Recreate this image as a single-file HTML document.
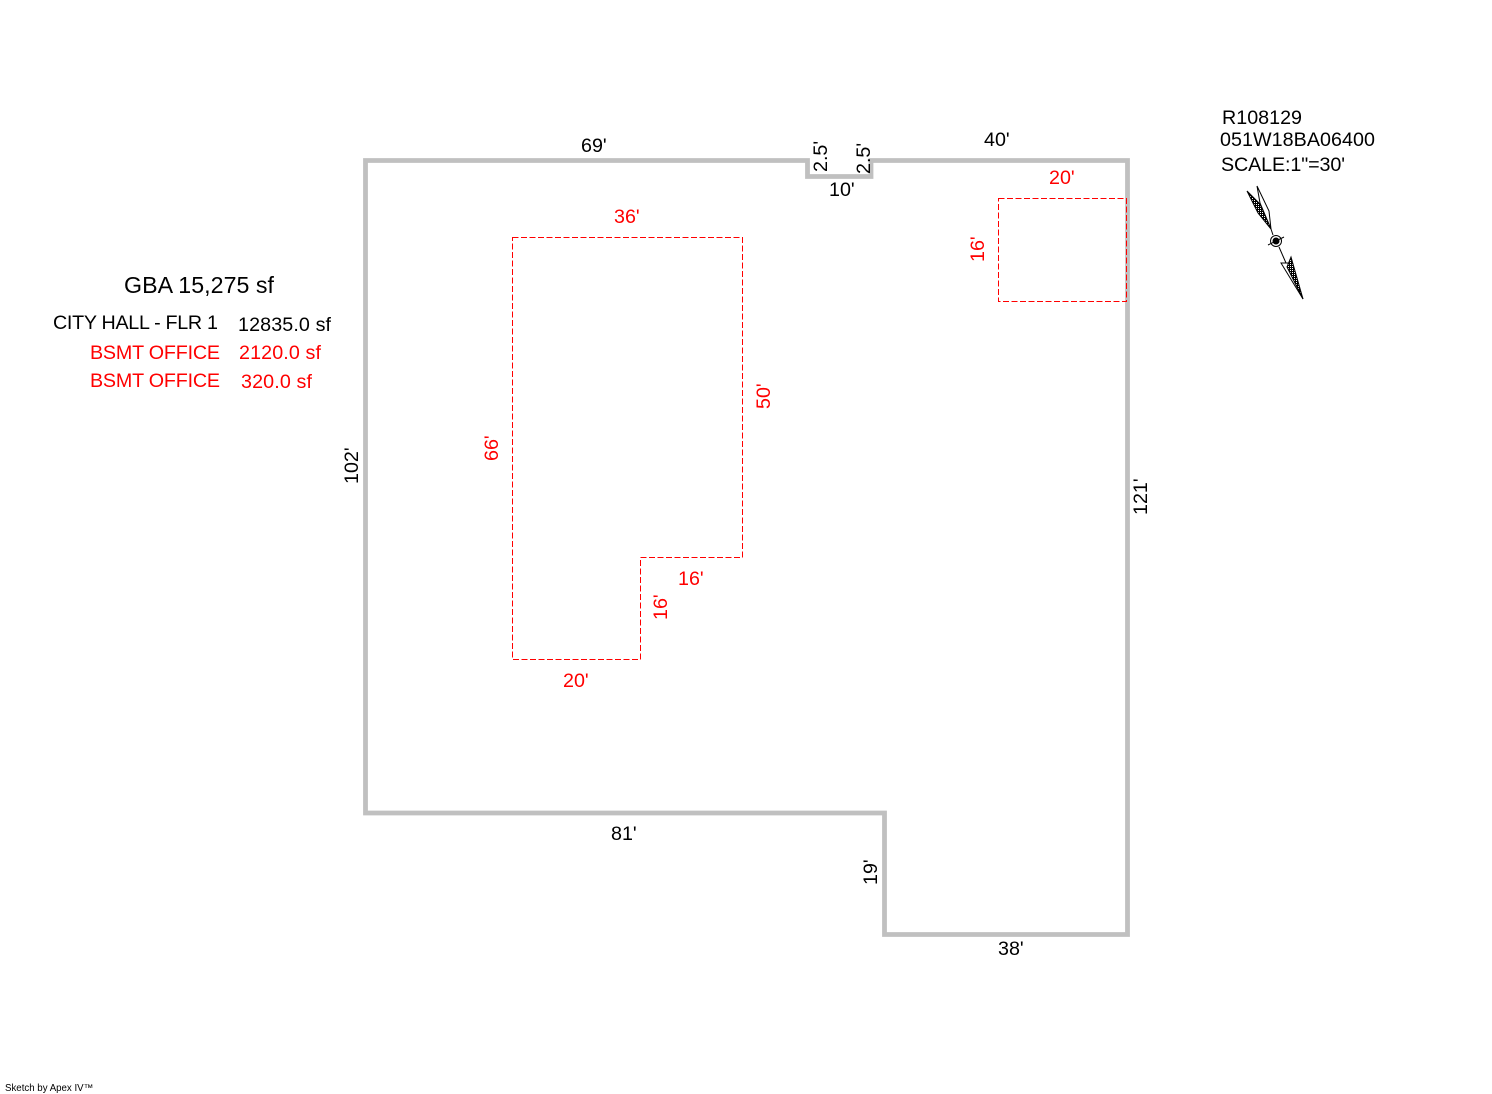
<!DOCTYPE html>
<html><head><meta charset="utf-8"><style>
html,body{margin:0;padding:0;background:#fff}
svg{display:block}
text{font-family:"Liberation Sans",Arial,sans-serif;font-size:19.7px;fill:#000}
.r{fill:#f00}
</style></head><body>
<svg width="1492" height="1094" viewBox="0 0 1492 1094" xmlns="http://www.w3.org/2000/svg">
<defs><pattern id="st" width="2" height="2" patternUnits="userSpaceOnUse"><rect width="2" height="2" fill="#000"/><rect width="1" height="1" fill="#fff"/></pattern></defs>
<path d="M365.5 160.5H807.5V176.5H871V160.5H1127.5V934.5H884.5V813H365.5Z" fill="none" stroke="#c0c0c0" stroke-width="4.8"/>
<g fill="none" stroke="#f00" stroke-width="1" stroke-dasharray="6 2.5">
<path d="M512.5 237.5H742.5V557.5H640.5V659.5H512.5Z"/>
<path d="M998.5 198.5H1126.5V301.5H998.5Z"/>
</g>
<text x="581" y="152">69'</text>
<text x="984" y="146">40'</text>
<text x="829" y="196">10'</text>
<text x="611" y="840">81'</text>
<text x="998" y="955">38'</text>
<text transform="translate(827,172) rotate(-90)">2.5'</text>
<text transform="translate(870,174) rotate(-90)">2.5'</text>
<text transform="translate(358,484) rotate(-90)">102'</text>
<text transform="translate(1147,515) rotate(-90)">121'</text>
<text transform="translate(877,885) rotate(-90)">19'</text>
<text class="r" x="614" y="223">36'</text>
<text class="r" x="1049" y="184">20'</text>
<text class="r" x="678" y="585">16'</text>
<text class="r" x="563" y="687">20'</text>
<text class="r" transform="translate(498,461) rotate(-90)">66'</text>
<text class="r" transform="translate(770,409) rotate(-90)">50'</text>
<text class="r" transform="translate(667,620) rotate(-90)">16'</text>
<text class="r" transform="translate(984,262) rotate(-90)">16'</text>
<text x="124" y="293" textLength="150" style="font-size:23.2px">GBA 15,275 sf</text>
<text x="53" y="329" textLength="165">CITY HALL - FLR 1</text>
<text x="238" y="331" textLength="93">12835.0 sf</text>
<text class="r" x="90" y="359" textLength="130">BSMT OFFICE</text>
<text class="r" x="239" y="359" textLength="82">2120.0 sf</text>
<text class="r" x="90" y="387" textLength="130">BSMT OFFICE</text>
<text class="r" x="241" y="388" textLength="71">320.0 sf</text>
<text x="1222" y="124" textLength="80">R108129</text>
<text x="1220" y="146" textLength="155">051W18BA06400</text>
<text x="1221" y="171" textLength="124">SCALE:1"=30'</text>
<text x="5" y="1091" style="font-size:9.7px">Sketch by Apex IV™</text>
<g fill="none" stroke="#000" stroke-width="1">
<path d="M1257 186L1260 203L1271 229L1269 211Z"/>
<path d="M1247 191L1260 204L1271 229L1258 213Z" fill="url(#st)"/>
<path d="M1271 229L1273 235"/>
<circle cx="1276" cy="241" r="5.5"/>
<circle cx="1276" cy="241" r="3" fill="#000"/>
<path d="M1268 245L1284 237"/>
<path d="M1279 247L1286 263"/>
<path d="M1281 263L1303 299L1288 263Z"/>
<path d="M1291 257L1303 299L1287 267Z" fill="url(#st)"/>
</g>
</svg>
</body></html>
